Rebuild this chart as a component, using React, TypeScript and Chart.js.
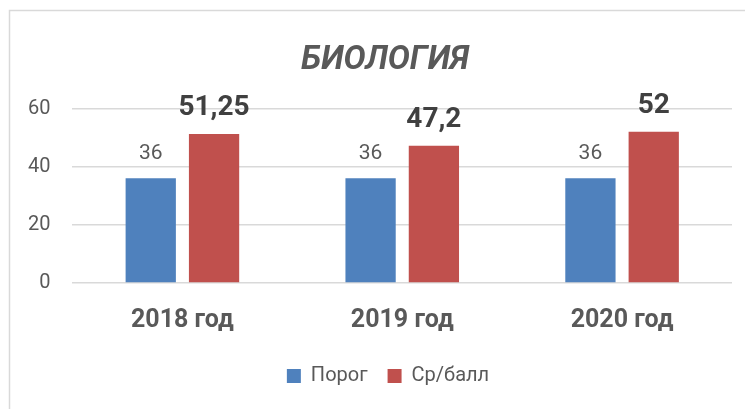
import React, { useEffect, useRef } from "react";
import { Chart, registerables } from "chart.js";

Chart.register(...registerables);

const categories = ["2018 год", "2019 год", "2020 год"];
const seriesNames = ["Порог", "Ср/балл"];
const thresholdValues = [36, 36, 36];
const averageValues = [51.25, 47.2, 52];
const valueLabels = [
  ["36", "36", "36"],
  ["51,25", "47,2", "52"],
];
const yTicks = [0, 20, 40, 60];
const titleText = "БИОЛОГИЯ";

const FONT = "Roboto, 'Noto Sans', sans-serif";

const labelPlugin = {
  id: "valueLabels",
  afterDatasetsDraw(chart: any) {
    const ctx = chart.ctx;
    ctx.save();
    ctx.textAlign = "center";
    ctx.textBaseline = "alphabetic";
    chart.data.datasets.forEach((ds: any, di: number) => {
      const meta = chart.getDatasetMeta(di);
      meta.data.forEach((bar: any, i: number) => {
        if (di === 0) {
          ctx.font = `400 21px ${FONT}`;
          ctx.fillStyle = "#595959";
        } else {
          ctx.font = `700 28px ${FONT}`;
          ctx.fillStyle = "#404040";
        }
        ctx.fillText(valueLabels[di][i], bar.x, bar.y - 19);
      });
    });
    ctx.restore();
  },
};

// shift title and legend slightly right, as in the reference (centred on the full frame)
const shiftPlugin = {
  id: "shiftBlocks",
  afterLayout(chart: any) {
    const t = chart.titleBlock;
    if (t) {
      t.left += 16;
      t.right += 16;
    }
    const l = chart.legend;
    if (l) {
      l.left += 19;
      l.right += 19;
    }
  },
};

const borderPlugin = {
  id: "outerBorder",
  beforeDraw(chart: any) {
    const ctx = chart.ctx;
    ctx.save();
    ctx.fillStyle = "#ffffff";
    ctx.fillRect(0, 0, chart.width, chart.height);
    ctx.strokeStyle = "#D9D9D9";
    ctx.lineWidth = 1.5;
    ctx.beginPath();
    ctx.moveTo(chart.width + 5, 10.5);
    ctx.lineTo(9.5, 10.5);
    ctx.lineTo(9.5, chart.height + 5);
    ctx.stroke();
    ctx.restore();
  },
};

export default function App() {
  const ref = useRef<HTMLCanvasElement | null>(null);
  useEffect(() => {
    if (!ref.current) return;
    const chart = new Chart(ref.current, {
      type: "bar",
      data: {
        labels: categories,
        datasets: [
          {
            label: seriesNames[0],
            data: thresholdValues,
            backgroundColor: "#4F81BD",
            categoryPercentage: 0.576,
            barPercentage: 0.794,
          },
          {
            label: seriesNames[1],
            data: averageValues,
            backgroundColor: "#C0504D",
            categoryPercentage: 0.576,
            barPercentage: 0.794,
          },
        ],
      },
      options: {
        animation: false,
        responsive: false,
        maintainAspectRatio: false,
        layout: { padding: { left: 6, right: 13, top: 41, bottom: 13 } },
        scales: {
          x: {
            grid: { display: false, drawTicks: false },
            border: { display: false },
            afterFit(axis: any) {
              axis.height = 63;
            },
            ticks: {
              padding: 23,
              color: "#595959",
              font: { family: FONT, size: 25, weight: "bold" },
            },
          },
          y: {
            min: 0,
            max: 60,
            afterBuildTicks(axis: any) {
              axis.ticks = yTicks.map((v) => ({ value: v }));
            },
            grid: { color: "#D9D9D9", lineWidth: 1.5, drawTicks: false },
            border: { display: false },
            ticks: {
              padding: 22,
              color: "#595959",
              font: { family: FONT, size: 20 },
            },
          },
        },
        plugins: {
          title: {
            display: true,
            text: titleText,
            color: "#595959",
            font: { family: FONT, size: 33, weight: "bold", style: "italic" },
            padding: { top: 0, bottom: 28 },
          },
          legend: {
            position: "bottom",
            labels: {
              boxWidth: 14,
              boxHeight: 14,
              color: "#595959",
              font: { family: FONT, size: 20 },
              padding: 20,
            },
          },
          tooltip: { enabled: false },
        },
      },
      plugins: [borderPlugin, shiftPlugin, labelPlugin],
    } as any);
    return () => chart.destroy();
  }, []);
  return (
    <div style={{ position: "absolute", left: 0, top: 0, width: 745, height: 409 }}>
      <canvas ref={ref} width={745} height={409} style={{ display: "block" }} />
    </div>
  );
}
